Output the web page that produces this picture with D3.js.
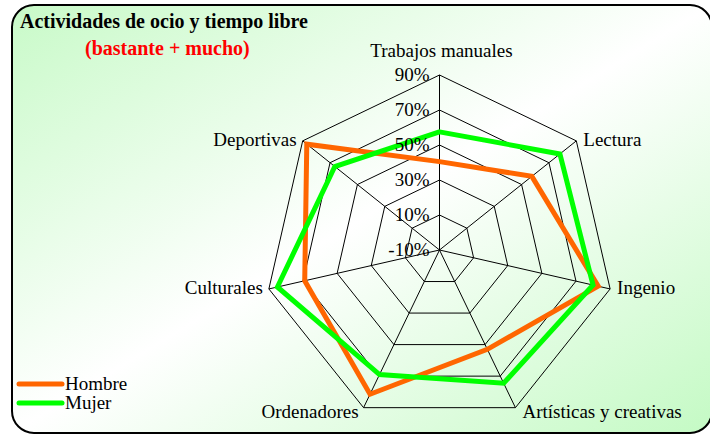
<!DOCTYPE html>
<html><head><meta charset="utf-8">
<script src="https://cdn.jsdelivr.net/npm/d3@7/dist/d3.min.js"></script>
<style>body{margin:0;background:#fff;}svg{display:block;}</style>
</head><body>
<svg id="c" width="710" height="435"></svg>
<script>
const categories = ["Trabajos manuales","Lectura","Ingenio","Artísticas y creativas","Ordenadores","Culturales","Deportivas"];
const hombre = [40.5, 57.5, 83, 53, 81.5, 69, 87];
const mujer  = [57.5, 78, 80, 74.5, 69, 85, 66.5];
const seriesNames = ["Hombre","Mujer"];
const tickValues = [-10, 10, 30, 50, 70, 90];
const tickLabels = ["-10%","10%","30%","50%","70%","90%"];

const svg = d3.select("#c");
const defs = svg.append("defs");
const grad = defs.append("linearGradient").attr("id","bg")
  .attr("x1","0%").attr("y1","0%").attr("x2","100%").attr("y2","100%");
grad.append("stop").attr("offset","0%").attr("stop-color","#c8fac8");
grad.append("stop").attr("offset","50%").attr("stop-color","#ffffff");
grad.append("stop").attr("offset","100%").attr("stop-color","#c4fac4");

svg.append("rect").attr("x",12).attr("y",5).attr("width",700).attr("height",428)
  .attr("rx",22).attr("ry",22).attr("fill","url(#bg)").attr("stroke","#000").attr("stroke-width",2);

const font = "'Liberation Serif','Times New Roman',serif";
svg.append("text").attr("x",20).attr("y",28).attr("font-family",font).attr("font-weight","bold")
  .attr("font-size",20).attr("fill","#000").text("Actividades de ocio y tiempo libre");
svg.append("text").attr("x",85).attr("y",55).attr("font-family",font).attr("font-weight","bold")
  .attr("font-size",20).attr("fill","#ff0000").text("(bastante + mucho)");

const cx = 439.5, cy = 250, R = 175;
const r = d3.scaleLinear().domain([-10, 90]).range([0, R]);
const n = categories.length;
const ang = i => i * 2 * Math.PI / n;
const pt = (i, v) => [cx + r(v) * Math.sin(ang(i)), cy - r(v) * Math.cos(ang(i))];

const g = svg.append("g");
// rings
tickValues.forEach(t => {
  if (t === -10) return;
  g.append("polygon").attr("points", categories.map((c,i)=>pt(i,t).join(",")).join(" "))
    .attr("fill","none").attr("stroke","#000").attr("stroke-width",1);
});
// spokes
categories.forEach((c,i) => {
  const p = pt(i, 90);
  g.append("line").attr("x1",cx).attr("y1",cy).attr("x2",p[0]).attr("y2",p[1])
    .attr("stroke","#000").attr("stroke-width",1);
});

// series
const line = d3.line().curve(d3.curveLinearClosed);
const colors = ["#ff6600", "#00ff00"];
[hombre, mujer].forEach((s, k) => {
  g.append("path").attr("d", line(s.map((v,i)=>pt(i,v))))
    .attr("fill","none").attr("stroke",colors[k]).attr("stroke-width",5).attr("stroke-linejoin","miter");
});

// tick labels
tickValues.forEach((t, j) => {
  g.append("text").attr("x", cx - 10).attr("y", cy - r(t) + 6).attr("text-anchor","end")
    .attr("font-family",font).attr("font-size",19).attr("fill","#000").text(tickLabels[j]);
});

// category labels
const labelPos = [
  {dx:2, dy:-18, a:"middle"},
  {dx:7, dy:5, a:"start"},
  {dx:7, dy:5, a:"start"},
  {dx:7, dy:10, a:"start"},
  {dx:-5, dy:10, a:"end"},
  {dx:-6, dy:5, a:"end"},
  {dx:-6, dy:5, a:"end"}
];
categories.forEach((c,i) => {
  const p = pt(i, 90);
  g.append("text").attr("x", p[0]+labelPos[i].dx).attr("y", p[1]+labelPos[i].dy)
    .attr("text-anchor", labelPos[i].a).attr("font-family",font).attr("font-size",19)
    .attr("fill","#000").text(c);
});

// legend
seriesNames.forEach((nm, k) => {
  const y = 384 + k*19;
  svg.append("line").attr("x1",19).attr("x2",62).attr("y1",y).attr("y2",y)
    .attr("stroke",colors[k]).attr("stroke-width",5).attr("stroke-linecap","round");
  svg.append("text").attr("x",65).attr("y",y+6).attr("font-family",font).attr("font-size",19)
    .attr("fill","#000").text(nm);
});
</script>
</body></html>
